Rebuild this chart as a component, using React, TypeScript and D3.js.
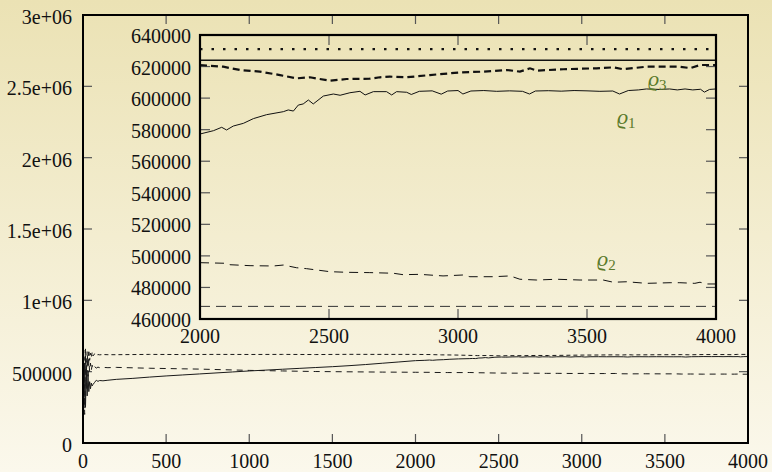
import React from "react";
import * as d3 from "d3";

const W = 772;
const H = 472;

// ---- tick definitions ----
const mainXTicks = [0, 500, 1000, 1500, 2000, 2500, 3000, 3500, 4000];
const mainYTicks = [0, 500000, 1000000, 1500000, 2000000, 2500000, 3000000];
const mainYTickLabels = ["0", "500000", "1e+06", "1.5e+06", "2e+06", "2.5e+06", "3e+06"];
const insetXTicks = [2000, 2500, 3000, 3500, 4000];
const insetYTicks = [460000, 480000, 500000, 520000, 540000, 560000, 580000, 600000, 620000, 640000];

// ---- series: rho1 (solid) ----
const rho1X = [0, 5, 10, 15, 20, 25, 30, 35, 40, 45, 50, 55, 60, 70, 80, 90, 100, 120, 150,
  200, 300, 400, 500, 600, 700, 800, 900, 1000, 1100, 1200, 1300, 1400, 1500, 1600, 1700, 1800, 1900,
  2000, 2052, 2084, 2103, 2129, 2168, 2207, 2258, 2323, 2342, 2362, 2381, 2400, 2420, 2439, 2478, 2517,
  2543, 2581, 2620, 2640, 2672, 2723, 2743, 2762, 2801, 2819, 2850, 2900, 2935, 2960, 3000, 3019, 3050,
  3100, 3150, 3200, 3250, 3277, 3300, 3350, 3400, 3450, 3500, 3550, 3600, 3626, 3660, 3700, 3730, 3780,
  3820, 3850, 3880, 3910, 3940, 3955, 3975, 4000];
const rho1Y = [500000, 300000, 560000, 250000, 520000, 330000, 480000, 360000, 430000, 380000, 420000, 400000, 410000, 425000, 440000, 432000, 438000, 436000, 440000,
  446000, 453000, 462000, 470000, 477000, 484000, 491000, 498000, 505000, 511000, 517000, 523000, 529000, 535000, 542000, 550000, 559000, 568000,
  577250, 579350, 581500, 579800, 582300, 584000, 587000, 589500, 591400, 592500, 591800, 595600, 596300, 598800, 596300, 601300, 602600,
  601800, 603400, 604300, 602000, 604100, 604100, 602000, 604100, 603700, 602300, 604300, 604600, 602500, 604500, 604800, 602600, 604500,
  604800, 604300, 604600, 604300, 602600, 604500, 604700, 604400, 604800, 604600, 604300, 604500, 602600, 604800, 605200, 605800, 605500,
  605800, 605200, 605800, 605200, 605600, 603800, 605500, 605800];

// ---- series: rho2 (thin dashed) ----
const rho2X = [0, 5, 10, 15, 20, 25, 30, 35, 40, 45, 50, 55, 60, 70, 80, 90, 100, 120, 150,
  200, 300, 400, 500, 600, 700, 800, 900, 1000, 1100, 1200, 1300, 1400, 1500, 1600, 1700, 1800, 1900,
  2000, 2103, 2116, 2194, 2284, 2323, 2374, 2413, 2503, 2568, 2658, 2749, 2787, 2852, 2942, 3020, 3046,
  3137, 3202, 3240, 3305, 3382, 3473, 3563, 3602, 3654, 3731, 3822, 3860, 3918, 3938, 3964, 4000];
const rho2Y = [350000, 600000, 200000, 620000, 380000, 600000, 450000, 580000, 500000, 560000, 510000, 545000, 520000, 535000, 525000, 532000, 528000, 530000, 528000,
  530000, 527000, 524000, 522000, 520000, 518000, 515000, 512000, 509000, 507000, 505000, 503000, 501000, 500000, 499000, 498000, 497000, 496500,
  495700, 495300, 494400, 493800, 493600, 494200, 492500, 491900, 490000, 489600, 489400, 489000, 488100, 488300, 487300, 487900, 486800,
  486800, 487300, 485200, 484700, 485200, 484700, 484700, 483300, 483600, 482600, 483000, 483000, 482600, 483300, 482200, 482200];

// ---- series: rho3 (thick dashed) ----
const rho3X = [0, 5, 10, 15, 20, 25, 30, 35, 40, 45, 50, 55, 60, 70, 80, 90, 100, 120, 150,
  200, 400, 600, 800, 1000, 1200, 1400, 1600, 1800,
  2000, 2090, 2155, 2232, 2310, 2374, 2426, 2503, 2568, 2658, 2697, 2736, 2800, 2891, 3008, 3100, 3189,
  3240, 3279, 3305, 3408, 3537, 3602, 3640, 3731, 3860, 3900, 3938, 4000];
const rho3Y = [400000, 650000, 300000, 660000, 480000, 640000, 540000, 650000, 580000, 630000, 600000, 635000, 610000, 625000, 615000, 620000, 618000, 620000, 619000,
  619000, 621000, 620000, 621000, 620500, 621000, 620000, 621500, 621000,
  621000, 619900, 617800, 616800, 614600, 612500, 613200, 611000, 612100, 612300, 613200, 613600, 613200, 614600, 616300, 616800, 617800,
  616800, 618900, 617400, 618300, 618900, 619500, 618300, 619900, 619900, 619000, 621000, 621000];

// ---- flat reference levels shown in the inset ----
const refDotted = 631000;
const refSolid = 624000;
const refDashed = 468000;

// ---- labels ----
const labels = [
  { name: "ϱ", sub: "3", x: 3736, y: 607700 },
  { name: "ϱ", sub: "1", x: 3616, y: 583600 },
  { name: "ϱ", sub: "2", x: 3539, y: 493600 },
];

const FONT = "Liberation Serif";

function zip(xs: number[], ys: number[]): [number, number][] {
  return xs.map((x, i) => [x, ys[i]]);
}

export default function App() {
  const main = { l: 83, r: 748, t: 15, b: 443 };
  const ins = { l: 200, r: 716, t: 35, b: 319 };

  const mx = d3.scaleLinear().domain([0, 4000]).range([main.l, main.r]);
  const my = d3.scaleLinear().domain([0, 3000000]).range([main.b, main.t]);
  const ix = d3.scaleLinear().domain([2000, 4000]).range([ins.l, ins.r]);
  const iy = d3.scaleLinear().domain([460000, 640000]).range([ins.b, ins.t]);

  const mLine = d3.line<[number, number]>().x((d) => mx(d[0])).y((d) => my(d[1]));
  const iLine = d3.line<[number, number]>().x((d) => ix(d[0])).y((d) => iy(d[1]));

  const r1 = zip(rho1X, rho1Y);
  const r2 = zip(rho2X, rho2Y);
  const r3 = zip(rho3X, rho3Y);
  const inR = (d: [number, number]) => d[0] >= 2000;

  const tickColor = "#555";

  return (
    <div style={{ position: "fixed", left: 0, top: 0 }}>
      <svg width={W} height={H} style={{ display: "block" }}>
        <defs>
          <linearGradient id="bg" x1="0" y1="0" x2="0" y2="1">
            <stop offset="0" stopColor="#ebe2b4" />
            <stop offset="1" stopColor="#fbf8ec" />
          </linearGradient>
          <clipPath id="mainClip">
            <rect x={main.l} y={main.t} width={main.r - main.l} height={main.b - main.t} />
          </clipPath>
          <clipPath id="insClip">
            <rect x={ins.l} y={ins.t} width={ins.r - ins.l} height={ins.b - ins.t} />
          </clipPath>
        </defs>
        <rect x={0} y={0} width={W} height={H} fill="url(#bg)" />

        {/* main ticks */}
        <g stroke={tickColor} strokeWidth={1.2}>
          {mainXTicks.map((t) => (
            <g key={"mx" + t}>
              <line x1={mx(t)} x2={mx(t)} y1={main.b} y2={main.b - 9} />
              <line x1={mx(t)} x2={mx(t)} y1={main.t} y2={main.t + 9} />
            </g>
          ))}
          {mainYTicks.map((t) => (
            <g key={"my" + t}>
              <line x1={main.l} x2={main.l + 9} y1={my(t)} y2={my(t)} />
              <line x1={main.r} x2={main.r - 9} y1={my(t)} y2={my(t)} />
            </g>
          ))}
        </g>
        <g style={{ fontFamily: FONT }} fontSize={20} fill="#111">
          {mainXTicks.map((t) => (
            <text key={"mxl" + t} x={mx(t)} y={468} textAnchor="middle">{t}</text>
          ))}
          {mainYTicks.map((t, i) => (
            <text key={"myl" + t} x={main.l - 11} y={my(t) + 9} textAnchor="end">{mainYTickLabels[i]}</text>
          ))}
        </g>

        {/* main series */}
        <g clipPath="url(#mainClip)" fill="none" stroke="#1a1a1a" strokeWidth={1}>
          <path d={mLine(r3) || ""} strokeDasharray="4,3" />
          <path d={mLine(r2) || ""} strokeDasharray="6,5" />
          <path d={mLine(r1) || ""} />
        </g>
        <rect x={main.l} y={main.t} width={main.r - main.l} height={main.b - main.t} fill="none" stroke="#000" strokeWidth={2} />

        {/* inset ticks */}
        <g stroke={tickColor} strokeWidth={1.2}>
          {insetXTicks.map((t) => (
            <g key={"ix" + t}>
              <line x1={ix(t)} x2={ix(t)} y1={ins.b} y2={ins.b - 10} />
              <line x1={ix(t)} x2={ix(t)} y1={ins.t} y2={ins.t + 10} />
            </g>
          ))}
          {insetYTicks.map((t) => (
            <g key={"iy" + t}>
              <line x1={ins.l} x2={ins.l + 10} y1={iy(t)} y2={iy(t)} />
              <line x1={ins.r} x2={ins.r - 10} y1={iy(t)} y2={iy(t)} />
            </g>
          ))}
        </g>
        <g style={{ fontFamily: FONT }} fontSize={20} fill="#111">
          {insetXTicks.map((t) => (
            <text key={"ixl" + t} x={ix(t)} y={343} textAnchor="middle">{t}</text>
          ))}
          {insetYTicks.map((t) => (
            <text key={"iyl" + t} x={ins.l - 9} y={iy(t) + 8} textAnchor="end">{t}</text>
          ))}
        </g>

        {/* inset series */}
        <g clipPath="url(#insClip)" fill="none" stroke="#111">
          <line x1={ins.l} x2={ins.r} y1={iy(refDotted)} y2={iy(refDotted)} strokeWidth={2.2} strokeDasharray="2.5,9" />
          <line x1={ins.l} x2={ins.r} y1={iy(refSolid)} y2={iy(refSolid)} strokeWidth={1.3} />
          <line x1={ins.l} x2={ins.r} y1={iy(refDashed)} y2={iy(refDashed)} strokeWidth={1} strokeDasharray="10,6" stroke="#333" />
          <path d={iLine(r3.filter(inR)) || ""} strokeWidth={2.2} strokeDasharray="7,4" />
          <path d={iLine(r2.filter(inR)) || ""} strokeWidth={1} strokeDasharray="9,6" />
          <path d={iLine(r1.filter(inR)) || ""} strokeWidth={1} />
        </g>
        <rect x={ins.l} y={ins.t} width={ins.r - ins.l} height={ins.b - ins.t} fill="none" stroke="#000" strokeWidth={2.2} />

        {/* series labels */}
        <g style={{ fontFamily: FONT }} fill="#5a7a2a">
          {labels.map((lb) => (
            <text key={lb.sub} x={ix(lb.x)} y={iy(lb.y)} fontSize={22} fontStyle="italic">
              {lb.name}
              <tspan fontSize={15} fontStyle="normal" dy={4}>{lb.sub}</tspan>
            </text>
          ))}
        </g>
      </svg>
    </div>
  );
}
